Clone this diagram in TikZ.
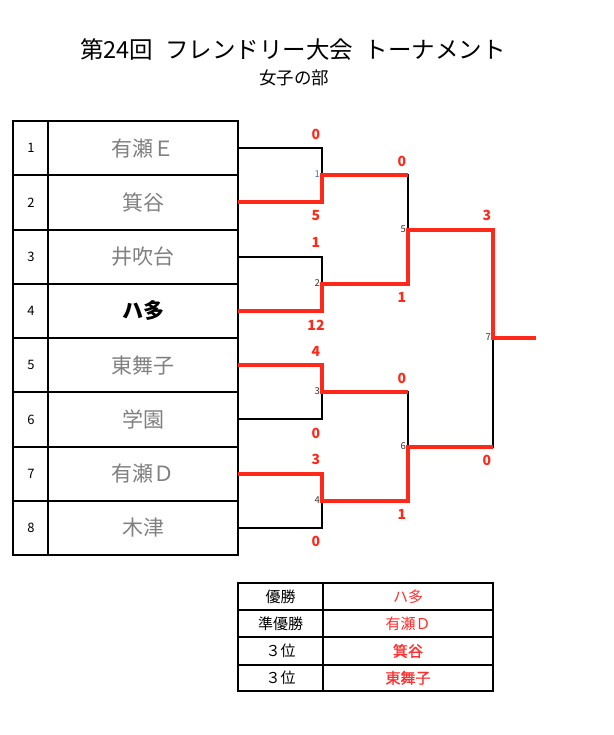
\documentclass[tikz,border=0pt]{standalone}
\usepackage{fontspec}
\setmainfont{Noto Sans CJK JP}
\newfontfamily\medfont[FakeBold=1]{Noto Sans CJK JP}
\definecolor{winred}{RGB}{255,40,25}
\definecolor{resred}{RGB}{255,45,45}
\definecolor{namegray}{RGB}{128,128,128}
\definecolor{numblue}{RGB}{68,114,196}
\tikzset{
  tbl/.style={draw=black, line width=2pt},
  bk/.style={draw=black, line width=2pt},
  rd/.style={draw=winred, line width=4pt},
  teamname/.style={text=namegray, inner sep=0pt, font=\fontsize{21}{21}\selectfont},
  seedno/.style={inner sep=0pt, font=\fontsize{13}{13}\selectfont},
  scorelbl/.style={text=winred, inner sep=0pt, font=\fontsize{14}{14}\selectfont\bfseries},
  matchno/.style={anchor=east, inner sep=0pt, text=black!80, font=\fontsize{9.5}{9.5}\selectfont},
  rescell/.style={inner sep=0pt, font=\fontsize{15}{15}\selectfont},
}
\begin{document}
\begin{tikzpicture}[x=1pt,y=-1pt]
\useasboundingbox (0,0) rectangle (613,735);
% heading
\node (title) at (293,50) {\fontsize{23.5}{23.5}\selectfont 第24回\hspace{0.5em}フレンドリー大会\hspace{0.5em}トーナメント};
\node (subtitle) at (294,78) {\fontsize{17.5}{17.5}\selectfont 女子の部};

% entry list
\draw[tbl] (13,121) rectangle (238,555);
\draw[tbl] (48,121) -- (48,555);
\foreach \k in {1,...,7}
  \draw[tbl] (13,121+54.25*\k) -- (238,121+54.25*\k);
\foreach \k in {1,...,8}
  \node[seedno] (seed\k) at (31,{121+54.25*(\k-0.5)}) {\k};
\node[teamname] (team1) at (143,148.1) {有瀬Ｅ};
\node[teamname] (team2) at (143,202.4) {箕谷};
\node[teamname] (team3) at (143,256.6) {井吹台};
\node[teamname, text=black, font=\fontsize{21}{21}\selectfont\bfseries] (team4) at (143,310.9) {ハ多};
\node[teamname] (team5) at (143,365.1) {東舞子};
\node[teamname] (team6) at (143,419.4) {学園};
\node[teamname] (team7) at (143,473.6) {有瀬Ｄ};
\node[teamname] (team8) at (143,527.9) {木津};

% bracket points
\foreach \k in {1,...,8}
  \coordinate (t\k) at (238,{121+54.25*(\k-0.5)});
\coordinate (m1) at (322,175.25);
\coordinate (m2) at (322,283.75);
\coordinate (m3) at (322,392.25);
\coordinate (m4) at (322,500.75);
\coordinate (m5) at (408,229.5);
\coordinate (m6) at (408,446.5);
\coordinate (m7) at (493,338);
\coordinate (win) at (536,338);

% bracket lines
\draw[bk] (t1) -| (m1) |- (t2);
\draw[bk] (t3) -| (m2) |- (t4);
\draw[bk] (t5) -| (m3) |- (t6);
\draw[bk] (t7) -| (m4) |- (t8);
\draw[bk] (m1) -| (m5) |- (m2);
\draw[bk] (m3) -| (m6) |- (m4);
\draw[bk] (m5) -| (m7) |- (m6);

% winners
\draw[rd] (t2) -| (m1) -- (m1 -| m5);
\draw[rd] (t5) -| (m3) -- (m3 -| m6);
\draw[rd] (t7) -| (m4) -| (m6) -- (m6 -| m7);
\draw[rd] (t4) -| (m2) -| (m5) -| (m7) -- (win);

% match numbers
\node[matchno, text=numblue] (no1) at (320,174.5) {1};
\node[matchno] (no2) at (320,283) {2};
\node[matchno] (no3) at (320,391.5) {3};
\node[matchno] (no4) at (320,500) {4};
\node[matchno] (no5) at (406,228.8) {5};
\node[matchno] (no6) at (406,445.8) {6};
\node[matchno] (no7) at (491,337.3) {7};

% scores
\node[scorelbl] (s1a) at (316,134) {0};
\node[scorelbl] (s1b) at (316,216) {5};
\node[scorelbl] (s2a) at (316,242.6) {1};
\node[scorelbl] (s2b) at (316,324.9) {12};
\node[scorelbl] (s3a) at (316,351.1) {4};
\node[scorelbl] (s3b) at (316,433.4) {0};
\node[scorelbl] (s4a) at (316,459.6) {3};
\node[scorelbl] (s4b) at (316,541.9) {0};
\node[scorelbl] (s5a) at (402,161.2) {0};
\node[scorelbl] (s5b) at (402,297.7) {1};
\node[scorelbl] (s6a) at (402,378.2) {0};
\node[scorelbl] (s6b) at (402,514.7) {1};
\node[scorelbl] (s7a) at (487,215.5) {3};
\node[scorelbl] (s7b) at (487,460.5) {0};

% results
\draw[tbl] (238,583) rectangle (493,691);
\draw[tbl] (323,583) -- (323,691);
\foreach \y in {610,637.3,664.5}
  \draw[tbl] (238,\y) -- (493,\y);
\node[rescell] (r1) at (280.5,596.5) {優勝};
\node[rescell] (r2) at (280.5,623.7) {準優勝};
\node[rescell] (r3) at (280.5,650.9) {３位};
\node[rescell] (r4) at (280.5,677.8) {３位};
\node[rescell, text=resred] (w1) at (408,596.5) {ハ多};
\node[rescell, text=resred] (w2) at (408,623.7) {有瀬Ｄ};
\node[rescell, text=resred, font=\fontsize{15}{15}\medfont] (w3) at (408,650.9) {箕谷};
\node[rescell, text=resred, font=\fontsize{15}{15}\medfont] (w4) at (408,677.8) {東舞子};
\end{tikzpicture}
\end{document}
